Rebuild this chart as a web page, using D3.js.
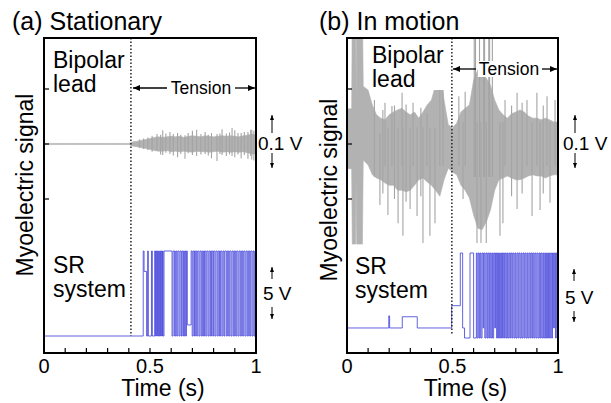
<!DOCTYPE html>
<html><head><meta charset="utf-8">
<script src="https://cdn.jsdelivr.net/npm/d3@7"></script>
<style>
body{margin:0;background:#fff}
svg{display:block;font-family:"Liberation Sans",Arial,Helvetica,sans-serif}
</style>
</head><body>
<svg id="c" width="611" height="403"></svg>
<script>
// ---------------- data ----------------
const panelTitles = ["(a) Stationary", "(b) In motion"];
const timeTicks = [0.1,0.2,0.3,0.4,0.5,0.6,0.7,0.8,0.9];
const timeTickLabels = [[0,"0"],[0.5,"0.5"],[1,"1"]];
const signalTicks = [-100, 0, 100];           // mV
const tensionStart = [0.41, 0.497];           // s
const xLabel = "Time (s)";
const yLabel = "Myoelectric signal";

// (a) bipolar lead envelope (mV)
const aEnvT = [0,0.02,0.04,0.06,0.08,0.10,0.12,0.14,0.16,0.18,0.20,0.22,0.24,0.26,0.28,0.30,0.32,0.34,0.36,0.38,0.40,
  0.42,0.44,0.46,0.48,0.50,0.52,0.54,0.56,0.58,0.60,0.62,0.64,0.66,0.68,0.70,0.72,0.74,0.76,0.78,0.80,0.82,0.84,0.86,0.88,0.90,0.92,0.94,0.96,0.98,1.00];
const aEnvHi = [1,1,1,1,1,1,1,1,1,1,1,1,1,1,1,1,1,1,1,1,1,
  4,5,7,8,10,12,13,12,13,14,13,14,12,14,15,14,13,15,14,13,14,15,14,15,14,13,15,16,18,17];
const aEnvLo = [-1,-1,-1,-1,-1,-1,-1,-1,-1,-1,-1,-1,-1,-1,-1,-1,-1,-1,-1,-1,-1,
  -4,-5,-7,-8,-10,-12,-13,-13,-12,-14,-13,-14,-13,-14,-15,-13,-14,-14,-15,-14,-13,-15,-14,-15,-14,-15,-14,-16,-18,-18];
const aSpikes = [[0.45,8,-7],[0.47,10,-9],[0.49,12,-11],[0.51,15,-14],[0.533,18,-11],[0.55,17,-19],[0.56,25,-20],
  [0.575,19,-16],[0.594,22,-18],[0.61,18,-21],[0.63,20,-24],[0.645,17,-18],[0.665,16,-27],[0.68,20,-17],[0.70,24,-20],
  [0.72,26,-22],[0.74,18,-19],[0.76,22,-18],[0.775,17,-21],[0.79,20,-26],[0.816,18,-31],[0.83,19,-18],[0.84,27,-20],
  [0.86,19,-22],[0.875,21,-19],[0.887,29,-22],[0.90,25,-24],[0.915,20,-19],[0.93,20,-26],[0.945,22,-20],[0.962,22,-27],
  [0.975,26,-22],[0.98,26,-28],[0.99,24,-30]];

// (b) bipolar lead envelope (mV)
const bEnvT = [0,0.022,0.025,0.041,0.043,0.046,0.073,0.077,0.10,
  0.12,0.14,0.16,0.18,0.20,0.22,0.24,0.26,0.28,0.30,0.32,0.34,0.36,0.38,0.40,0.42,0.44,0.46,0.48,0.50,0.52,0.54,0.56,0.58,
  0.60,0.62,0.64,0.66,0.68,0.70,0.72,0.74,0.76,0.78,0.80,0.82,0.84,0.86,0.88,0.90,0.92,0.94,0.96,0.98,1.00];
const bEnvHi = [64,64,250,250,80,250,250,105,98,
  71,53,47,44,53,58,62,65,58,53,58,47,58,71,80,107,131,80,35,29,38,58,65,71,
  116,135,131,120,107,80,62,53,47,55,58,62,58,51,47,47,44,47,44,40,40];
const bEnvLo = [-45,-45,-182,-182,-60,-182,-182,-29,-38,
  -56,-62,-65,-71,-75,-75,-84,-84,-87,-84,-75,-65,-62,-69,-75,-84,-95,-65,-44,-51,-56,-75,-84,-98,
  -129,-153,-156,-142,-120,-84,-65,-62,-58,-62,-65,-65,-62,-58,-56,-58,-58,-62,-58,-56,-56];
const bSpikes = [[0.13,80,-60],[0.156,20,-111],[0.17,62,-90],[0.18,75,-40],[0.194,30,-129],[0.213,69,-40],[0.225,70,-100],
  [0.242,30,-144],[0.261,93,-40],[0.265,30,-167],[0.28,72,-105],[0.299,30,-118],[0.313,75,-40],[0.332,30,-131],
  [0.35,66,-95],[0.36,30,-180],[0.379,56,-40],[0.393,30,-167],[0.417,30,-144],[0.44,147,-40],[0.455,142,-40],
  [0.53,87,-40],[0.55,40,-100],[0.56,95,-40],[0.603,250,-60],[0.609,250,-60],[0.616,40,-180],[0.628,250,-60],
  [0.635,40,-180],[0.648,250,-60],[0.652,250,-60],[0.66,40,-180],[0.672,250,-60],[0.676,250,-60],[0.689,250,-60],
  [0.725,40,-167],[0.739,40,-144],[0.749,80,-40],[0.78,70,-95],[0.806,93,-118],[0.83,75,-90],[0.853,80,-40],
  [0.877,40,-131],[0.90,93,-40],[0.915,40,-120],[0.93,70,-90],[0.948,87,-40],[0.962,40,-107],[0.986,80,-40]];

// (a) SR system output (V)
const aSR = [[0,0],[0.468,5],[0.472,3.8],[0.484,0],[0.489,5],[0.492,0],[0.507,5],[0.511,0],[0.522,5],[0.526,0],
  [0.529,5],[0.532,0],[0.535,5],[0.538,0],[0.541,5],[0.544,0],[0.547,5],[0.55,0],[0.553,5],[0.556,0],[0.559,5],
  [0.562,0],[0.566,5],[0.604,0],[0.609,5],[0.616,0],[0.621,5],[0.626,0],[0.631,5],[0.637,0],[0.642,5],[0.648,0],
  [0.652,5],[0.658,0],[0.663,5],[0.668,0],[0.672,5],[0.676,0.65],[0.694,5],[0.699,0],[0.704,5],[0.71,0],[0.714,5],
  [0.72,0],[0.725,5],[0.731,0],[0.736,5],[0.742,0],[0.747,5],[0.752,0],[0.757,5],[0.763,0],[0.768,5],[0.774,0],
  [0.779,5],[0.785,0],[0.79,5],[0.796,0],[0.8,5],[0.806,0],[0.811,5],[0.817,0],[0.822,5],[0.828,0],[0.833,5],
  [0.839,0],[0.844,5],[0.849,0],[0.853,5],[0.86,0],[0.865,5],[0.871,0],[0.876,5],[0.882,0],[0.887,5],[0.893,0],
  [0.898,5],[0.904,0],[0.909,5],[0.915,0],[0.92,5],[0.926,0],[0.931,5],[0.937,0],[0.942,5],[0.948,0],[0.953,5],
  [0.959,0],[0.964,5],[0.97,0],[0.975,5],[0.981,0],[0.986,5],[0.991,0],[0.995,5],[0.998,0]];

// (b) SR system output (V)
const bSR = [[0,0.59],[0.198,1.3],[0.202,0.59],[0.262,1.25],[0.333,0.59],[0.496,1.9],[0.537,5],[0.548,0.59],
  [0.557,0],[0.583,5],[0.6,0],[0.613,5],[0.617,0],[0.622,5],[0.627,0],[0.631,5],[0.635,0],[0.64,5],[0.645,0.59],
  [0.648,5],[0.653,0],[0.658,5],[0.663,0],[0.667,5],[0.672,0],[0.676,5],[0.681,0],[0.686,5],[0.69,0],[0.695,5],
  [0.70,0.59],[0.704,5],[0.709,0],[0.713,5],[0.718,0],[0.723,5],[0.727,0],[0.732,5],[0.737,0],[0.741,5],[0.746,0],
  [0.75,5],[0.755,0],[0.76,5],[0.764,0],[0.769,5],[0.774,0],[0.778,5],[0.783,0],[0.787,5],[0.792,0],[0.797,5],
  [0.801,0],[0.806,5],[0.811,0],[0.815,5],[0.82,0],[0.825,5],[0.829,0],[0.834,5],[0.839,0],[0.843,5],[0.848,0],
  [0.853,5],[0.857,0],[0.862,5],[0.867,0],[0.871,5],[0.876,0],[0.88,5],[0.885,0],[0.89,5],[0.895,0],[0.9,5],
  [0.905,0],[0.91,5],[0.914,0],[0.918,5],[0.923,0],[0.928,5],[0.932,0],[0.937,5],[0.941,0],[0.946,5],[0.95,0],
  [0.955,5],[0.96,0],[0.965,5],[0.97,0],[0.974,5],[0.979,0.59],[0.983,5],[0.988,0],[0.992,5],[0.996,0.59]];

// ---------------- drawing ----------------
const svg = d3.select("#c");
const FT = 38, FB = 353;
const GRAY = "#b2b2b2", SPIKE = "#a4a4a4", BLUE = "#4848dc";

function arrow(g, x1, y1, x2, y2, head, w, sw) {
  g.append("line").attr("x1", x1).attr("y1", y1).attr("x2", x2).attr("y2", y2)
    .attr("stroke", "#000").attr("stroke-width", sw);
  const a = Math.atan2(y2 - y1, x2 - x1);
  const bx = x2 - head * Math.cos(a), by = y2 - head * Math.sin(a);
  const px = -Math.sin(a) * w / 2, py = Math.cos(a) * w / 2;
  g.append("path").attr("d", `M${x2},${y2}L${bx + px},${by + py}L${bx - px},${by - py}Z`).attr("fill", "#000");
}

function textBg(g, sel, pad) {
  const b = sel.node().getBBox();
  g.insert("rect", () => sel.node()).attr("x", b.x - pad).attr("y", b.y - pad + 3)
    .attr("width", b.width + 2 * pad).attr("height", b.height + 2 * pad - 6).attr("fill", "#fff");
}

const panels = [
  {x0: 44, x1: 256, title: panelTitles[0], titleX: 12, envT: aEnvT, hi: aEnvHi, lo: aEnvLo, spikes: aSpikes, sr: aSR,
   srBase: 336, tension: tensionStart[0], ylabX: 33, ylabY: 185,
   bip: [53, 68, 92], srl: [53, 273, 297], tens: {y: 88, tx: 201, l0: 167, l1: 133, r0: 235, r1: 255},
   volt: {tx: 258, ax: 272}, five: {tx: 263, ax: 272, ty: 300, u0: 279, u1: 267, d0: 307, d1: 319}, dotEnd: 336},
  {x0: 347, x1: 558, title: panelTitles[1], titleX: 319, envT: bEnvT, hi: bEnvHi, lo: bEnvLo, spikes: bSpikes, sr: bSR,
   srBase: 338, tension: tensionStart[1], ylabX: 337, ylabY: 190,
   bip: [372, 63, 87], srl: [355, 274, 298], tens: {y: 69, tx: 509, l0: 476, l1: 453, r0: 542, r1: 557},
   volt: {tx: 563, ax: 575}, five: {tx: 565, ax: 574, ty: 304, u0: 281, u1: 269, d0: 311, d1: 322}, dotEnd: 335}
];

panels.forEach((p, pi) => {
  const g = svg.append("g");
  const x = d3.scaleLinear().domain([0, 1]).range([p.x0, p.x1]);
  const y = d3.scaleLinear().domain([-100, 100]).range([199, 89]);
  const ys = d3.scaleLinear().domain([0, 5]).range([p.srBase, p.srBase - 85]);

  const clipId = "clip" + pi;
  svg.append("clipPath").attr("id", clipId).append("rect")
    .attr("x", p.x0).attr("y", FT).attr("width", p.x1 - p.x0).attr("height", FB - FT);
  const plot = g.append("g").attr("clip-path", `url(#${clipId})`);

  // bipolar lead band
  const env = p.envT.map((t, i) => ({t, hi: p.hi[i], lo: p.lo[i]}));
  plot.append("path").datum(env)
    .attr("d", d3.area().x(d => x(d.t)).y0(d => y(d.lo)).y1(d => y(d.hi)))
    .attr("fill", GRAY).attr("stroke", GRAY).attr("stroke-width", 0.6);
  plot.selectAll("line.sp").data(p.spikes).join("line").attr("class", "sp")
    .attr("x1", d => x(d[0])).attr("x2", d => x(d[0]))
    .attr("y1", d => y(d[1])).attr("y2", d => y(d[2]))
    .attr("stroke", SPIKE).attr("stroke-width", 1.1);

  // SR system output
  plot.append("path").datum(p.sr)
    .attr("d", d3.line().x(d => x(d[0])).y(d => ys(d[1])).curve(d3.curveStepAfter))
    .attr("fill", "none").attr("stroke", BLUE).attr("stroke-width", 1).attr("stroke-opacity", 0.85);

  // tension onset dotted line
  g.append("line").attr("x1", x(p.tension)).attr("x2", x(p.tension)).attr("y1", FT).attr("y2", p.dotEnd)
    .attr("stroke", "#222").attr("stroke-width", 1.5).attr("stroke-dasharray", "1.5,2");

  // frame
  g.append("rect").attr("x", p.x0).attr("y", FT).attr("width", p.x1 - p.x0).attr("height", FB - FT)
    .attr("fill", "none").attr("stroke", "#000").attr("stroke-width", 2);

  // ticks
  g.selectAll("line.xt").data(timeTicks).join("line").attr("class", "xt")
    .attr("x1", d => x(d)).attr("x2", d => x(d)).attr("y1", FB).attr("y2", FB - 5)
    .attr("stroke", "#000").attr("stroke-width", 1.2);
  g.selectAll("line.yt").data(signalTicks).join("line").attr("class", "yt")
    .attr("x1", p.x0).attr("x2", p.x0 + 5).attr("y1", d => y(d)).attr("y2", d => y(d))
    .attr("stroke", "#000").attr("stroke-width", 1.2);
  g.selectAll("text.xl").data(timeTickLabels).join("text").attr("class", "xl")
    .attr("x", d => x(d[0])).attr("y", 373).attr("text-anchor", "middle")
    .attr("font-size", 20).text(d => d[1]);

  // axis titles
  g.append("text").attr("x", (p.x0 + p.x1) / 2 + 13).attr("y", 396).attr("text-anchor", "middle")
    .attr("font-size", 23).text(xLabel);
  g.append("text").attr("transform", `translate(${p.ylabX},${p.ylabY}) rotate(-90)`)
    .attr("text-anchor", "middle").attr("font-size", 23).text(yLabel);

  // panel title
  g.append("text").attr("x", p.titleX).attr("y", 30).attr("font-size", 25).text(p.title);

  // in-plot labels
  const bt = g.append("text").attr("font-size", 23);
  bt.append("tspan").attr("x", p.bip[0]).attr("y", p.bip[1]).text("Bipolar");
  bt.append("tspan").attr("x", p.bip[0]).attr("y", p.bip[2]).text("lead");
  textBg(g, bt, 1);
  const st = g.append("text").attr("font-size", 23);
  st.append("tspan").attr("x", p.srl[0]).attr("y", p.srl[1]).text("SR");
  st.append("tspan").attr("x", p.srl[0]).attr("y", p.srl[2]).text("system");

  // Tension annotation
  const tt = g.append("text").attr("x", p.tens.tx).attr("y", p.tens.y + 6).attr("text-anchor", "middle")
    .attr("font-size", 17.5).text("Tension");
  textBg(g, tt, 1);
  arrow(g, p.tens.l0, p.tens.y, p.tens.l1, p.tens.y, 7, 6, 1.3);
  arrow(g, p.tens.r0, p.tens.y, p.tens.r1, p.tens.y, 7, 6, 1.3);

  // scale annotations
  g.append("text").attr("x", p.volt.tx).attr("y", 150).attr("font-size", 19).text("0.1 V");
  arrow(g, p.volt.ax, 133, p.volt.ax, 115, 5, 4, 1);
  arrow(g, p.volt.ax, 153, p.volt.ax, 168, 5, 4, 1);
  g.append("text").attr("x", p.five.tx).attr("y", p.five.ty).attr("font-size", 19).text("5 V");
  arrow(g, p.five.ax, p.five.u0, p.five.ax, p.five.u1, 5, 4, 1);
  arrow(g, p.five.ax, p.five.d0, p.five.ax, p.five.d1, 5, 4, 1);
});
</script>
</body></html>
